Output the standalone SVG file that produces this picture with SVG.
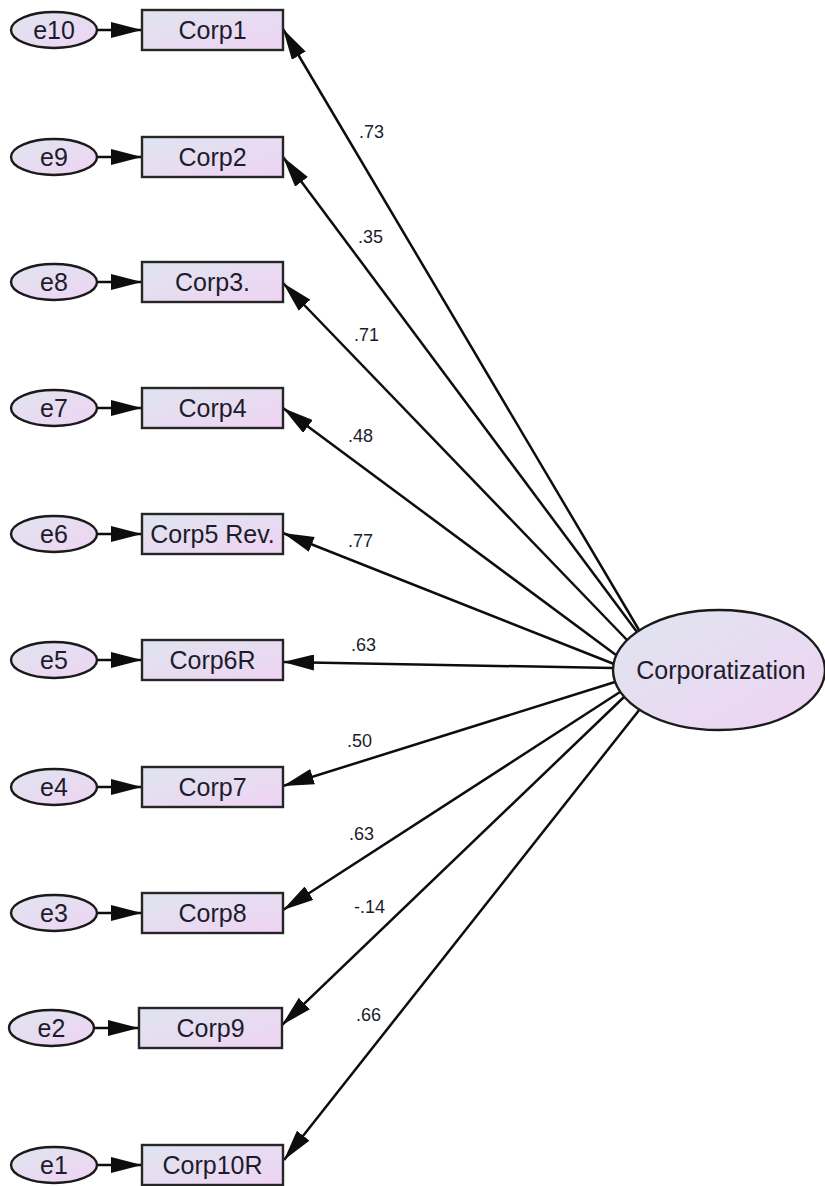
<svg xmlns="http://www.w3.org/2000/svg" width="825" height="1186" viewBox="0 0 825 1186">
  <style>
    .obs { stroke: #262626; stroke-width: 2.4; fill: url(#fillGrad); }
    .err { stroke: #1a1a1a; stroke-width: 2.4; fill: url(#fillGrad); }
    .lat { stroke: #1a1a1a; stroke-width: 2.4; fill: url(#fillGrad); }
    .name { font-family: "Liberation Sans", Arial, sans-serif; font-size: 25px; fill: #1c1c2c; text-anchor: middle; }
    .coef { font-family: "Liberation Sans", Arial, sans-serif; font-size: 18px; fill: #1c1c2c; }
    .edge { stroke: #0d0d0d; stroke-width: 2.5; fill: none; marker-end: url(#arrow); }
  </style>
  <defs>
    <linearGradient id="fillGrad" x1="0" y1="0" x2="1" y2="1">
      <stop offset="0" stop-color="#dfe5ef"/>
      <stop offset="1" stop-color="#efd3f3"/>
    </linearGradient>
    <marker id="arrow" viewBox="0 0 31 16" refX="31" refY="8" markerWidth="31" markerHeight="16" markerUnits="userSpaceOnUse" orient="auto">
      <path d="M0,0 L31,8 L0,16 z" fill="#0d0d0d"/>
    </marker>
  </defs>
  <rect width="825" height="1186" fill="#ffffff"/>

  <!-- connectors: error terms to indicators, factor loadings -->
  <g id="connectors">
    <path class="edge" d="M97,30 L142,30"/>
    <path class="edge" d="M97,157 L142,157"/>
    <path class="edge" d="M97,282 L142,282"/>
    <path class="edge" d="M97,408 L142,408"/>
    <path class="edge" d="M97,534 L142,534"/>
    <path class="edge" d="M97,660 L142,660"/>
    <path class="edge" d="M97,787 L142,787"/>
    <path class="edge" d="M97,913 L142,913"/>
    <path class="edge" d="M94,1028 L139,1028"/>
    <path class="edge" d="M97,1165 L142,1165"/>

    <path class="edge" d="M639,630 L283,29"/>
    <path class="edge" d="M637,632 L283,157"/>
    <path class="edge" d="M627,640 L283,283"/>
    <path class="edge" d="M616,655 L283,408"/>
    <path class="edge" d="M614,664 L283,533"/>
    <path class="edge" d="M613,668 L283,662"/>
    <path class="edge" d="M615,682 L283,786"/>
    <path class="edge" d="M620,692 L283,910"/>
    <path class="edge" d="M624,697 L282,1025"/>
    <path class="edge" d="M640,709 L284,1160"/>
  </g>

  <g id="labels">
    <text class="coef" x="359" y="138">.73</text>
    <text class="coef" x="358" y="243">.35</text>
    <text class="coef" x="354" y="341">.71</text>
    <text class="coef" x="348" y="442">.48</text>
    <text class="coef" x="348" y="547">.77</text>
    <text class="coef" x="351" y="651">.63</text>
    <text class="coef" x="347" y="747">.50</text>
    <text class="coef" x="349" y="840">.63</text>
    <text class="coef" x="354" y="913">-.14</text>
    <text class="coef" x="356" y="1021">.66</text>
  </g>

  <!-- latent factor -->
  <g id="Corporatization">
    <ellipse class="lat" cx="719" cy="670" rx="106" ry="60"/>
    <text class="name" x="721" y="679">Corporatization</text>
  </g>

  <!-- indicators -->
  <g id="Corp1"><rect class="obs" x="142" y="10" width="141" height="40"/><text class="name" x="212.5" y="39">Corp1</text></g>
  <g id="Corp2"><rect class="obs" x="142" y="137" width="141" height="40"/><text class="name" x="212.5" y="166">Corp2</text></g>
  <g id="Corp3"><rect class="obs" x="142" y="262" width="141" height="40"/><text class="name" x="212.5" y="291">Corp3.</text></g>
  <g id="Corp4"><rect class="obs" x="142" y="388" width="141" height="40"/><text class="name" x="212.5" y="417">Corp4</text></g>
  <g id="Corp5"><rect class="obs" x="142" y="514" width="141" height="40"/><text class="name" x="212.5" y="543">Corp5 Rev.</text></g>
  <g id="Corp6R"><rect class="obs" x="142" y="640" width="141" height="40"/><text class="name" x="212.5" y="669">Corp6R</text></g>
  <g id="Corp7"><rect class="obs" x="142" y="767" width="141" height="40"/><text class="name" x="212.5" y="796">Corp7</text></g>
  <g id="Corp8"><rect class="obs" x="142" y="893" width="141" height="40"/><text class="name" x="212.5" y="922">Corp8</text></g>
  <g id="Corp9"><rect class="obs" x="139" y="1008" width="143" height="40"/><text class="name" x="210.5" y="1037">Corp9</text></g>
  <g id="Corp10R"><rect class="obs" x="142" y="1145" width="141" height="40"/><text class="name" x="212.5" y="1174">Corp10R</text></g>

  <!-- error terms -->
  <g id="e10"><ellipse class="err" cx="54" cy="30" rx="43" ry="18"/><text class="name" x="54" y="39">e10</text></g>
  <g id="e9"><ellipse class="err" cx="54" cy="157" rx="43" ry="18"/><text class="name" x="54" y="166">e9</text></g>
  <g id="e8"><ellipse class="err" cx="54" cy="282" rx="43" ry="18"/><text class="name" x="54" y="291">e8</text></g>
  <g id="e7"><ellipse class="err" cx="54" cy="408" rx="43" ry="18"/><text class="name" x="54" y="417">e7</text></g>
  <g id="e6"><ellipse class="err" cx="54" cy="534" rx="43" ry="18"/><text class="name" x="54" y="543">e6</text></g>
  <g id="e5"><ellipse class="err" cx="54" cy="660" rx="43" ry="18"/><text class="name" x="54" y="669">e5</text></g>
  <g id="e4"><ellipse class="err" cx="54" cy="787" rx="43" ry="18"/><text class="name" x="54" y="796">e4</text></g>
  <g id="e3"><ellipse class="err" cx="54" cy="913" rx="43" ry="18"/><text class="name" x="54" y="922">e3</text></g>
  <g id="e2"><ellipse class="err" cx="51.5" cy="1028" rx="42.5" ry="18"/><text class="name" x="51.5" y="1037">e2</text></g>
  <g id="e1"><ellipse class="err" cx="54" cy="1165" rx="43" ry="18"/><text class="name" x="54" y="1174">e1</text></g>
</svg>
